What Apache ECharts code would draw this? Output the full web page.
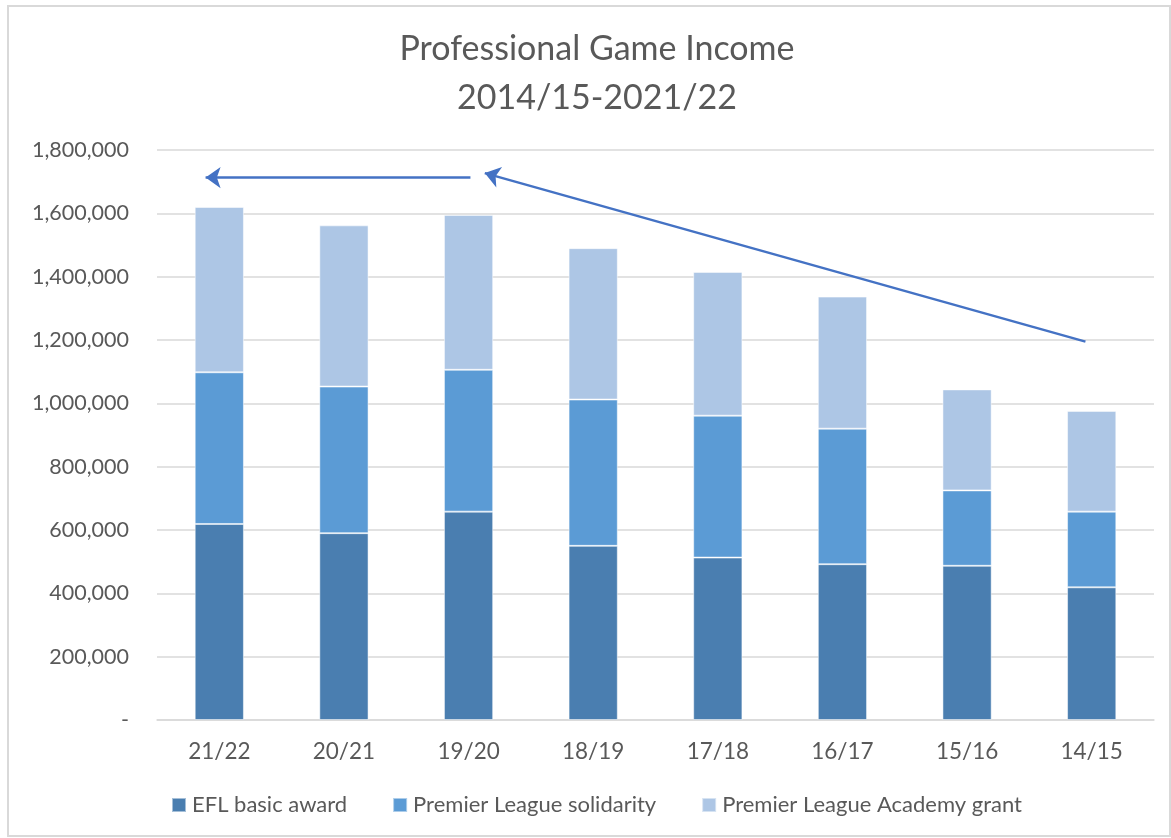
<!DOCTYPE html>
<html>
<head>
<meta charset="utf-8">
<script src="https://cdn.jsdelivr.net/npm/echarts@6/dist/echarts.min.js"></script>
<style>
  html, body { margin: 0; padding: 0; background: #fff; }
  #chart { width: 1171px; height: 838px; }
</style>
</head>
<body>
<div id="chart"></div>
<script>
const seasons = ["21/22", "20/21", "19/20", "18/19", "17/18", "16/17", "15/16", "14/15"];
const eflBasic = [619000, 590000, 658000, 550000, 513000, 492000, 487000, 419000];
const plSolidarity = [479000, 463000, 448000, 462000, 448000, 428000, 238000, 239000];
const plAcademy = [522000, 509000, 489000, 478000, 454000, 417000, 319000, 318000];
const yTicks = [0, 200000, 400000, 600000, 800000, 1000000, 1200000, 1400000, 1600000, 1800000];

// arrows drawn on the chart: [category position, value]
const arrowTop = { from: [2.015, 1713000], to: [-0.11, 1713000] };
const arrowTrend = { from: [6.95, 1195000], to: [2.13, 1727000] };

const font = "Lato";
const grey = "#595959";
const chart = echarts.init(document.getElementById("chart"));

const barStyle = (c) => ({ color: c, borderColor: "rgba(255,255,255,0.5)", borderWidth: 1 });

const option = {
  animation: false,
  textStyle: { fontFamily: font },
  graphic: [{
    type: "rect",
    shape: { x: 8, y: 6, width: 1162, height: 830 },
    style: { fill: "none", stroke: "#d9d9d9", lineWidth: 2 },
    silent: true
  }],
  title: {
    text: "Professional Game Income\n2014/15-2021/22",
    left: 592,
    top: 20,
    textAlign: "center",
    textStyle: { fontFamily: font, fontSize: 34, fontWeight: "normal", color: grey, lineHeight: 49 }
  },
  legend: {
    left: 166,
    top: 789,
    itemWidth: 14,
    itemHeight: 14,
    itemGap: 45,
    icon: "rect",
    textStyle: { fontFamily: font, fontSize: 22, color: grey, padding: [0, 0, 0, 1] },
    data: ["EFL basic award", "Premier League solidarity", "Premier League Academy grant"]
  },
  grid: { left: 157, right: 17, top: 150, bottom: 118, containLabel: false },
  xAxis: [{
    type: "category",
    data: seasons,
    axisTick: { show: false },
    axisLine: { lineStyle: { color: "#d9d9d9", width: 1.5 } },
    axisLabel: { fontFamily: font, fontSize: 22.5, color: grey, margin: 20 }
  }, {
    type: "value",
    min: -0.5,
    max: 7.5,
    show: false
  }],
  yAxis: {
    type: "value",
    min: yTicks[0],
    max: yTicks[yTicks.length - 1],
    interval: yTicks[1] - yTicks[0],
    axisLine: { show: false },
    axisTick: { show: false },
    splitLine: { lineStyle: { color: "#d9d9d9", width: 1.5 } },
    axisLabel: {
      fontFamily: font, fontSize: 21.5, color: grey, margin: 28,
      formatter: (v) => v === 0 ? "-" : v.toLocaleString("en-US")
    }
  },
  series: [
    { name: "EFL basic award", type: "bar", stack: "total", barWidth: "39.5%", data: eflBasic, itemStyle: barStyle("#4a7eb0") },
    { name: "Premier League solidarity", type: "bar", stack: "total", data: plSolidarity, itemStyle: barStyle("#5b9bd5") },
    { name: "Premier League Academy grant", type: "bar", stack: "total", data: plAcademy, itemStyle: barStyle("#adc6e5") },
    {
      name: "arrows",
      type: "line",
      xAxisIndex: 1,
      data: [],
      silent: true,
      markLine: {
        silent: true,
        symbol: ["none", "arrow"],
        symbolSize: [16, 15],
        label: { show: false },
        lineStyle: { color: "#4472c4", width: 2.5, type: "solid" },
        emphasis: { disabled: true },
        data: [
          [{ coord: arrowTop.from }, { coord: arrowTop.to }],
          [{ coord: arrowTrend.from }, { coord: arrowTrend.to }]
        ]
      }
    }
  ]
};

chart.setOption(option);
</script>
</body>
</html>
